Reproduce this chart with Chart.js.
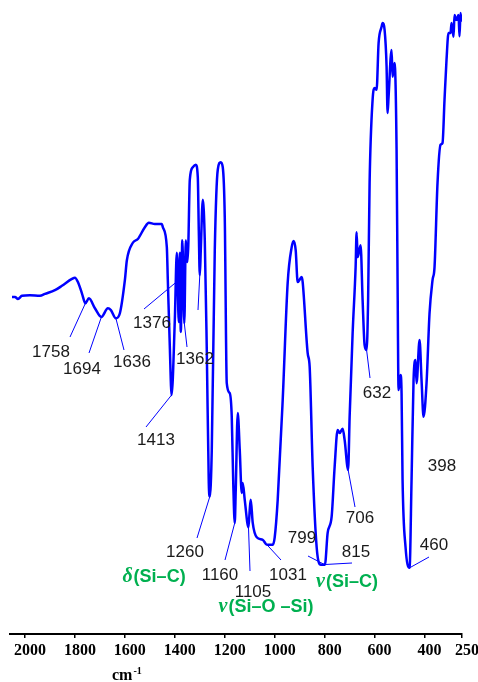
<!DOCTYPE html>
<html lang="en">
<head>
<meta charset="UTF-8">
<title>IR spectrum</title>
<script src="https://cdn.jsdelivr.net/npm/chart.js"></script>
<style>
  html, body { margin: 0; padding: 0; background: #ffffff; }
  canvas { display: block; }
</style>
</head>
<body>
<canvas id="irChart" width="478" height="682"></canvas>
<script>
  // spectrum trace: wavenumber (cm-1) and transmittance (%)
  const wavenumbers = [
    2052, 2040, 2028, 2012, 1980, 1940, 1920, 1880, 1852, 1812, 1800, 1788, 1772, 1758, 1744, 1720,
    1694, 1668, 1656, 1636, 1620, 1600, 1592, 1568, 1548, 1520, 1504, 1480, 1452, 1448, 1432, 1428,
    1420, 1413, 1400, 1392, 1384, 1380, 1376, 1370, 1362, 1356, 1350, 1346, 1340, 1328, 1316, 1308,
    1304, 1300, 1296, 1288, 1280, 1272, 1264, 1260, 1252, 1240, 1228, 1216, 1208, 1200, 1192, 1180,
    1172, 1166, 1160, 1156, 1148, 1140, 1132, 1128, 1120, 1105, 1100, 1096, 1088, 1072, 1048, 1031,
    1008, 1000, 988, 968, 948, 932, 924, 916, 908, 892, 888, 868, 860, 848, 832, 815,
    799, 788, 772, 760, 748, 740, 728, 720, 706, 700, 688, 676, 672, 668, 656, 648,
    640, 632, 626, 620, 608, 600, 592, 584, 572, 568, 560, 552, 548, 544, 532, 528,
    520, 512, 508, 504, 496, 492, 488, 476, 460, 452, 444, 436, 432, 420, 412, 404,
    392, 380, 368, 360, 348, 336, 328, 320, 312, 304, 296, 292, 284, 280, 272, 264,
    260, 256, 252
  ];
  const transmittance = [
    54.0, 54.0, 53.7, 54.2, 54.3, 54.2, 54.5, 55.1, 55.8, 56.9, 57.1, 56.4, 54.6, 53.0, 53.8, 52.2,
    50.8, 52.2, 51.9, 50.6, 51.4, 56.7, 59.9, 62.7, 63.3, 65.2, 65.9, 65.7, 65.7, 65.2, 62.0, 56.7,
    46.0, 38.3, 50.3, 61.1, 50.0, 61.1, 48.4, 63.1, 49.8, 63.1, 59.6, 62.3, 72.8, 74.8, 75.2, 73.2,
    64.7, 57.5, 61.5, 69.6, 63.1, 45.5, 24.2, 22.0, 29.5, 61.5, 74.4, 75.6, 74.8, 66.8, 40.2, 38.6,
    34.8, 24.2, 17.8, 23.1, 35.4, 29.5, 22.6, 24.2, 21.5, 17.1, 19.9, 21.5, 17.8, 15.5, 15.1, 14.3,
    14.3, 15.5, 21.5, 37.5, 56.3, 62.0, 63.0, 61.5, 56.4, 57.2, 56.4, 45.0, 42.8, 26.8, 13.9, 11.1,
    11.1, 16.2, 18.8, 26.8, 32.7, 32.2, 32.9, 31.1, 26.3, 34.8, 48.2, 58.8, 64.4, 60.4, 62.3, 53.5,
    46.3, 45.5, 53.5, 72.3, 85.6, 87.5, 87.2, 94.7, 97.3, 97.9, 96.8, 90.9, 83.5, 86.1, 93.6, 89.3,
    91.5, 77.6, 56.7, 39.1, 41.5, 38.6, 24.7, 13.9, 10.6, 24.7, 40.7, 43.9, 40.2, 47.1, 40.7, 34.8,
    40.2, 51.4, 56.7, 58.8, 72.3, 78.4, 78.7, 85.6, 92.0, 96.3, 96.3, 97.9, 95.7, 99.2, 98.4, 99.2,
    95.8, 99.5, 98.1
  ];
  const tickValues = [2000, 1800, 1600, 1400, 1200, 1000, 800, 600, 400, 250];

  // marked bands, in cm-1
  const peakPositions = [1758, 1694, 1636, 1376, 1362, 1413, 1260, 1160, 1105, 1031, 799, 815, 706, 632, 398, 460];
  const bandAssignments = ['δ(Si–C)', 'ν(Si–O –Si)', 'ν(Si–C)'];

  // where each peak number sits and where its leader line starts (px);
  // tipT lifts the leader end off the trace where it points into a band cluster
  const peakLayout = {
    1758: { at: [51, 352], from: [70, 337] },
    1694: { at: [82, 369], from: [89, 353] },
    1636: { at: [132, 362], from: [124, 350] },
    1376: { at: [152, 323], from: [144, 309], tipT: 57 },
    1362: { at: [195, 359], from: [187, 347] },
    1413: { at: [156, 440], from: [146, 427] },
    1260: { at: [185, 552], from: [197, 538] },
    1160: { at: [220, 575], from: [225, 560] },
    1105: { at: [253, 592], from: [250, 571] },
    1031: { at: [288, 575], from: [281, 560] },
    799:  { at: [302, 538], from: [308, 556] },
    815:  { at: [356, 552], from: [352, 563] },
    706:  { at: [360, 518], from: [355, 507] },
    632:  { at: [377, 393], from: [370, 378] },
    398:  { at: [442, 466], from: null },
    460:  { at: [434, 545], from: [429, 557] }
  };
  const assignmentLayout = [[154, 577], [266, 607], [347, 582]];

  const points = wavenumbers.map((w, i) => ({ x: w, y: transmittance[i] }));

  // linear interpolation of the trace at a given wavenumber
  function traceAt(w) {
    for (let i = 0; i < wavenumbers.length - 1; i++) {
      const a = wavenumbers[i], b = wavenumbers[i + 1];
      if (w <= a && w >= b) {
        const t = (a - w) / (a - b);
        return transmittance[i] + t * (transmittance[i + 1] - transmittance[i]);
      }
    }
    return transmittance[transmittance.length - 1];
  }

  const peakMarks = {
    id: 'peakMarks',
    afterDatasetsDraw(chart) {
      const { ctx, scales: { x, y } } = chart;
      ctx.save();
      ctx.strokeStyle = '#0000ff';
      ctx.lineWidth = 1;
      ctx.fillStyle = '#1a1a1a';
      ctx.font = '17px "Liberation Sans", Arial, sans-serif';
      ctx.textAlign = 'center';
      ctx.textBaseline = 'middle';
      peakPositions.forEach(p => {
        const lay = peakLayout[p];
        if (lay.from) {
          const t = lay.tipT !== undefined ? lay.tipT : traceAt(p);
          ctx.beginPath();
          ctx.moveTo(lay.from[0], lay.from[1]);
          ctx.lineTo(x.getPixelForValue(p), y.getPixelForValue(t));
          ctx.stroke();
        }
        ctx.fillText(String(p), lay.at[0], lay.at[1]);
      });
      // short unlabeled tick at the 1300 shoulder
      ctx.beginPath();
      ctx.moveTo(198, 310);
      ctx.lineTo(x.getPixelForValue(1300), y.getPixelForValue(traceAt(1300)));
      ctx.stroke();

      // band assignments: greek symbol in italic serif, rest in bold sans
      const greekFont = 'italic bold 20px "Liberation Serif", "Times New Roman", serif';
      const restFont = 'bold 18px "Liberation Sans", Arial, sans-serif';
      ctx.fillStyle = '#00b050';
      ctx.textAlign = 'left';
      bandAssignments.forEach((txt, i) => {
        const sym = txt[0], rest = txt.slice(1);
        ctx.font = greekFont;
        const w1 = ctx.measureText(sym).width + 1;
        ctx.font = restFont;
        const w2 = ctx.measureText(rest).width;
        const left = assignmentLayout[i][0] - (w1 + w2) / 2;
        const cy = assignmentLayout[i][1];
        ctx.font = greekFont;
        ctx.fillText(sym, left, cy);
        ctx.font = restFont;
        ctx.fillText(rest, left + w1, cy);
      });

      // axis unit
      ctx.fillStyle = '#000';
      ctx.textBaseline = 'alphabetic';
      ctx.font = 'bold 16px "Liberation Serif", "Times New Roman", serif';
      ctx.fillText('cm', 112, 680);
      const cmW = ctx.measureText('cm').width;
      ctx.font = 'bold 10px "Liberation Serif", "Times New Roman", serif';
      ctx.fillText('-1', 112 + cmW + 1, 674);
      ctx.restore();
    }
  };

  new Chart(document.getElementById('irChart'), {
    type: 'line',
    data: {
      datasets: [{
        data: points,
        borderColor: '#0000ff',
        borderWidth: 2.5,
        borderJoinStyle: 'round',
        pointRadius: 0,
        cubicInterpolationMode: 'monotone',
        fill: false
      }]
    },
    options: {
      responsive: false,
      animation: false,
      layout: { padding: { left: 10, right: 16, top: 10, bottom: 0 } },
      plugins: { legend: { display: false }, tooltip: { enabled: false } },
      scales: {
        x: {
          type: 'linear',
          reverse: true,
          min: 250,
          max: 2060,
          afterBuildTicks: s => { s.ticks = tickValues.map(v => ({ value: v })); },
          afterFit: s => { s.height = 48; s.paddingLeft = 0; s.paddingRight = 0; },
          grid: { drawOnChartArea: false, drawTicks: true, tickLength: 4, color: '#000', lineWidth: 1.5 },
          border: { display: true, color: '#000', width: 2 },
          ticks: {
            color: '#000',
            autoSkip: false,
            maxRotation: 0,
            padding: 3,
            labelOffset: 5,
            callback: v => String(v),
            font: { family: '"Liberation Serif", "Times New Roman", serif', size: 16, weight: 'bold' }
          }
        },
        y: { display: false, min: 0, max: 100 }
      }
    },
    plugins: [peakMarks]
  });
</script>
</body>
</html>
